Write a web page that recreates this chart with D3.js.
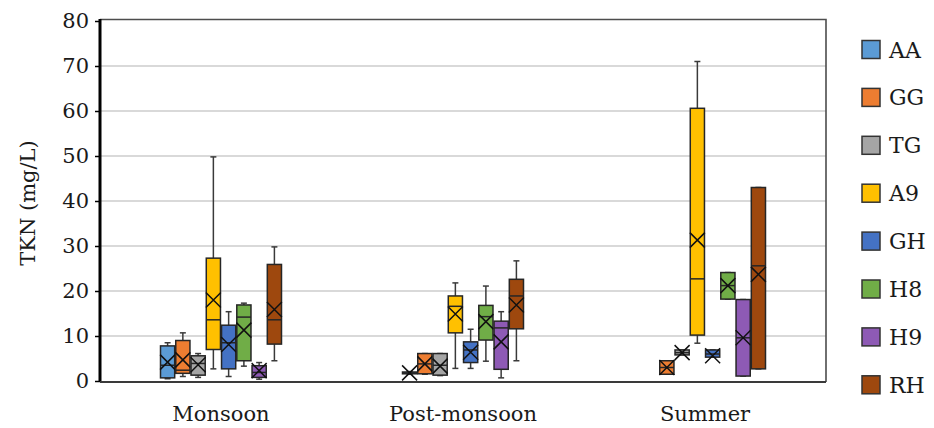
<!DOCTYPE html>
<html>
<head>
<meta charset="utf-8">
<script src="https://cdn.jsdelivr.net/npm/d3@7"></script>
<style>
  html, body { margin: 0; padding: 0; background: #fff; }
  svg { display: block; font-family: "DejaVu Serif", "Liberation Serif", serif; }
</style>
</head>
<body>
<svg id="chart" width="934" height="428"></svg>
<script>
// Seasons on the x axis and sampling sites (one box per site per season)
const seasons = ["Monsoon", "Post-monsoon", "Summer"];
const sites = ["AA", "GG", "TG", "A9", "GH", "H8", "H9", "RH"];
const siteColors = ["#5B9BD5", "#ED7D31", "#A5A5A5", "#FFC000", "#4472C4", "#70AD47", "#8E5AB5", "#9E480E"];
const yTicks = [0, 10, 20, 30, 40, 50, 60, 70, 80];

// Box statistics per site (rows) and season (columns: Monsoon, Post-monsoon, Summer)
const minVals = [
  [0.5, 1.5, null], [1.0, 1.5, 1.5], [0.8, 1.2, 5.8], [2.7, 2.8, 8.4],
  [1.0, 2.8, 5.3], [3.3, 4.4, 18.2], [0.4, 0.7, 1.1], [4.5, 4.5, 2.7]
];
const q1Vals = [
  [0.7, 1.6, null], [1.7, 1.6, 1.5], [1.3, 1.3, 5.8], [7.0, 10.7, 10.2],
  [2.7, 4.1, 5.3], [4.5, 9.1, 18.2], [0.8, 2.6, 1.1], [8.2, 11.6, 2.7]
];
const medianVals = [
  [3.5, 1.8, null], [2.4, 3.8, 3.0], [3.9, 3.5, 6.3], [13.6, 16.6, 22.7],
  [8.5, 6.9, 6.0], [14.2, 14.3, 21.2], [1.9, 11.8, 9.6], [13.6, 18.9, 25.6]
];
const q3Vals = [
  [7.8, 2.0, null], [9.0, 6.1, 4.5], [5.6, 6.1, 6.9], [27.3, 18.9, 60.6],
  [12.4, 8.7, 6.9], [16.9, 16.8, 24.1], [3.4, 13.3, 18.1], [25.9, 22.6, 43.0]
];
const maxVals = [
  [8.5, 2.1, null], [10.7, 6.1, 4.5], [6.1, 6.1, 6.9], [49.8, 21.8, 71.0],
  [15.4, 11.5, 6.9], [17.3, 21.1, 24.1], [4.1, 15.4, 18.1], [29.8, 26.7, 43.0]
];
const meanVals = [
  [4.2, 1.8, null], [4.7, 3.8, 3.0], [3.6, 3.3, 6.3], [18.0, 14.9, 31.3],
  [8.1, 6.4, 5.6], [11.3, 13.2, 21.2], [2.3, 8.7, 9.6], [15.9, 16.9, 23.7]
];

// Flatten into drawable records
const boxes = [];
sites.forEach((site, i) => {
  seasons.forEach((season, j) => {
    if (q1Vals[i][j] == null) return;
    boxes.push({
      site, season, color: siteColors[i],
      min: minVals[i][j], q1: q1Vals[i][j], median: medianVals[i][j],
      q3: q3Vals[i][j], max: maxVals[i][j], mean: meanVals[i][j]
    });
  });
});

const svg = d3.select("#chart");
const plot = { left: 100, right: 826, top: 21, bottom: 381 };
const textColor = "#1a1a1a";
const fontSize = 21;

const x0 = d3.scaleBand().domain(seasons).range([plot.left, plot.right]);
const groupWidth = 121;
const x1 = d3.scaleBand().domain(sites).range([0, groupWidth]).paddingInner(0.07);
const y = d3.scaleLinear().domain([0, 80]).range([plot.bottom, plot.top]);

const groupLeft = s => x0(s) + x0.bandwidth() / 2 - groupWidth / 2;

// Horizontal gridlines
svg.append("g")
  .selectAll("line")
  .data(yTicks.filter(t => t > 0 && t < 80))
  .join("line")
  .attr("x1", plot.left).attr("x2", plot.right)
  .attr("y1", d => y(d)).attr("y2", d => y(d))
  .attr("stroke", "#d9d9d9").attr("stroke-width", 2);

// Plot frame (top and right edges)
svg.append("path")
  .attr("d", `M${plot.left},${plot.top - 1.5}H${plot.right}V${plot.bottom + 1}`)
  .attr("fill", "none").attr("stroke", "#4d4d4d").attr("stroke-width", 1.6);

// Boxes
const g = svg.append("g");
const bw = x1.bandwidth();
const node = g.selectAll("g.box")
  .data(boxes)
  .join("g")
  .attr("class", "box")
  .attr("transform", d => `translate(${groupLeft(d.season) + x1(d.site)},0)`);

const whiskerColor = "#3a3a3a";
// whisker stems
node.append("line")
  .attr("x1", bw / 2).attr("x2", bw / 2)
  .attr("y1", d => y(d.max)).attr("y2", d => y(d.q3))
  .attr("stroke", whiskerColor).attr("stroke-width", 1.5);
node.append("line")
  .attr("x1", bw / 2).attr("x2", bw / 2)
  .attr("y1", d => y(d.q1)).attr("y2", d => y(d.min))
  .attr("stroke", whiskerColor).attr("stroke-width", 1.5);
// whisker caps
node.append("line")
  .attr("x1", bw / 2 - 3).attr("x2", bw / 2 + 3)
  .attr("y1", d => y(d.max)).attr("y2", d => y(d.max))
  .attr("stroke", whiskerColor).attr("stroke-width", 1.5);
node.append("line")
  .attr("x1", bw / 2 - 3).attr("x2", bw / 2 + 3)
  .attr("y1", d => y(d.min)).attr("y2", d => y(d.min))
  .attr("stroke", whiskerColor).attr("stroke-width", 1.5);
// interquartile box
node.append("rect")
  .attr("x", 0).attr("width", bw)
  .attr("y", d => y(d.q3))
  .attr("height", d => Math.max(1, y(d.q1) - y(d.q3)))
  .attr("fill", d => d.color)
  .attr("stroke", "#262626").attr("stroke-width", 1.5);
// median
node.append("line")
  .attr("x1", 0).attr("x2", bw)
  .attr("y1", d => y(d.median)).attr("y2", d => y(d.median))
  .attr("stroke", "#262626").attr("stroke-width", 1.5);
// mean marker (×)
const m = 7.5;
node.append("path")
  .attr("d", d => {
    const cy = y(d.mean), cx = bw / 2;
    return `M${cx - m},${cy - m}L${cx + m},${cy + m}M${cx - m},${cy + m}L${cx + m},${cy - m}`;
  })
  .attr("stroke", "#111").attr("stroke-width", 1.5).attr("fill", "none");

// Y axis
const yAxis = d3.axisLeft(y).tickValues(yTicks).tickSize(5).tickPadding(6);
const ya = svg.append("g").attr("transform", `translate(${plot.left},0)`).call(yAxis);
ya.select(".domain").attr("stroke", "#000").attr("stroke-width", 3)
  .attr("d", `M0,${plot.top - 2}V${plot.bottom + 1}`);
ya.selectAll(".tick line").attr("stroke", "#000").attr("stroke-width", 1.5);
ya.selectAll(".tick text")
  .attr("font-family", "DejaVu Serif, serif")
  .attr("font-size", fontSize).attr("fill", textColor);

// X axis baseline and category labels
svg.append("line")
  .attr("x1", plot.left).attr("x2", plot.right)
  .attr("y1", plot.bottom + 1).attr("y2", plot.bottom + 1)
  .attr("stroke", "#3a3a3a").attr("stroke-width", 2);
svg.append("g")
  .selectAll("text")
  .data(seasons)
  .join("text")
  .attr("x", d => x0(d) + x0.bandwidth() / 2)
  .attr("y", 421)
  .attr("text-anchor", "middle")
  .attr("font-size", fontSize).attr("fill", textColor)
  .text(d => d);

// Y axis title
svg.append("text")
  .attr("transform", "translate(35,203) rotate(-90)")
  .attr("text-anchor", "middle")
  .attr("font-size", fontSize).attr("fill", textColor)
  .text("TKN (mg/L)");

// Legend
const legend = svg.append("g")
  .selectAll("g")
  .data(sites)
  .join("g")
  .attr("transform", (d, i) => `translate(862,${50 + i * 47.9})`);
legend.append("rect")
  .attr("x", 0).attr("y", -9.5).attr("width", 18).attr("height", 18)
  .attr("fill", (d, i) => siteColors[i])
  .attr("stroke", "#333").attr("stroke-width", 1.5);
legend.append("text")
  .attr("x", 27).attr("y", 7.5)
  .attr("font-size", fontSize + 1).attr("fill", textColor)
  .text(d => d);
</script>
</body>
</html>
